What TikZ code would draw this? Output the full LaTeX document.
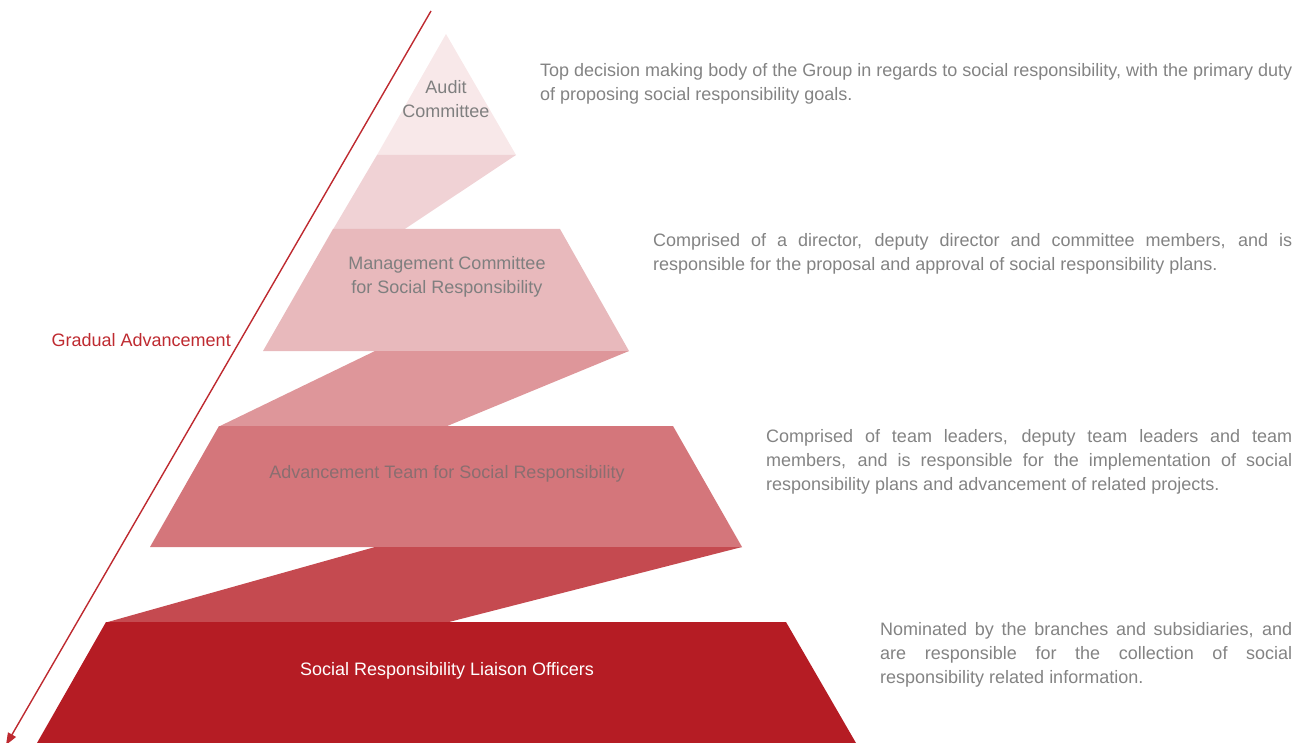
\documentclass[tikz,border=0pt]{standalone}
\usepackage{fontspec}
\setmainfont{Liberation Sans}
\usetikzlibrary{arrows.meta}
\definecolor{cTri}{HTML}{F8E8E9}
\definecolor{cConA}{HTML}{F0D2D5}
\definecolor{cTrapB}{HTML}{E8B9BC}
\definecolor{cConB}{HTML}{DE969A}
\definecolor{cTrapC}{HTML}{D4767B}
\definecolor{cConC}{HTML}{C54A50}
\definecolor{cTrapD}{HTML}{B51C24}
\definecolor{cArrow}{HTML}{BE2A30}
\definecolor{cDesc}{HTML}{838383}
\definecolor{cLabel}{HTML}{7F7F7F}
\definecolor{cLabelC}{HTML}{8A6E70}
\newcommand{\jline}[2]{\makebox[#1][s]{#2}}
\tikzset{
  desc/.style={anchor=base west, inner sep=0pt, text=cDesc, font=\fontsize{18}{24}\selectfont},
  lbl/.style={anchor=base, inner sep=0pt, align=center, text=cLabel, font=\fontsize{18}{24.5}\selectfont},
}
\begin{document}
\begin{tikzpicture}[x=1pt,y=-1pt]
\useasboundingbox (0,0) rectangle (1306,743);
% pyramid
\fill[cTri] (446,34) -- (516,155) -- (377,155) -- cycle;
\fill[cConA] (377,155) -- (516,155) -- (404,229.5) -- (333,229.5) -- cycle;
\fill[cTrapB] (333,229) -- (560,229) -- (629,351) -- (263,351) -- cycle;
\fill[cConB] (375,351) -- (629,351) -- (446,426.5) -- (219,426.5) -- cycle;
\fill[cTrapC] (219,426) -- (673,426) -- (742,547) -- (150,547) -- cycle;
\fill[cConC] (375,547) -- (742,547) -- (447,622.5) -- (106,622.5) -- cycle;
\fill[cTrapD] (106,622) -- (786,622) -- (856,743) -- (37,743) -- cycle;
% labels
\node[lbl] (audit) at (446,118) {Audit\\Committee};
\node[lbl] (mgmt) at (447,294) {Management Committee\\for Social Responsibility};
\node[lbl, text=cLabelC] (team) at (447,478) {Advancement Team for Social Responsibility};
\node[lbl, text=white] (liaison) at (447,675) {Social Responsibility Liaison Officers};
% arrow
\coordinate (atop) at (431,11);
\coordinate (atip) at (6,745);
\draw[cArrow, line width=1.4pt, -{Triangle[length=12pt,width=9pt]}] (atop) -- (atip);
\node[anchor=base east, inner sep=0pt, text=cArrow, font=\fontsize{18}{24}\selectfont] (grad) at (231,346) {Gradual Advancement};
% descriptions
\node[desc] (d1) at (540,77) {\parbox[t]{752pt}{\jline{752pt}{Top decision making body of the Group in regards to social responsibility, with the primary duty}\\of proposing social responsibility goals.}};
\node[desc] (d2) at (653,247) {\parbox[t]{639pt}{\jline{639pt}{Comprised of a director, deputy director and committee members, and is}\\responsible for the proposal and approval of social responsibility plans.}};
\node[desc] (d3) at (766,442) {\parbox[t]{526pt}{\jline{526pt}{Comprised of team leaders, deputy team leaders and team}\\\jline{526pt}{members, and is responsible for the implementation of social}\\responsibility plans and advancement of related projects.}};
\node[desc] (d4) at (880,635) {\parbox[t]{412pt}{\jline{412pt}{Nominated by the branches and subsidiaries, and}\\\jline{412pt}{are responsible for the collection of social}\\responsibility related information.}};
\end{tikzpicture}
\end{document}
